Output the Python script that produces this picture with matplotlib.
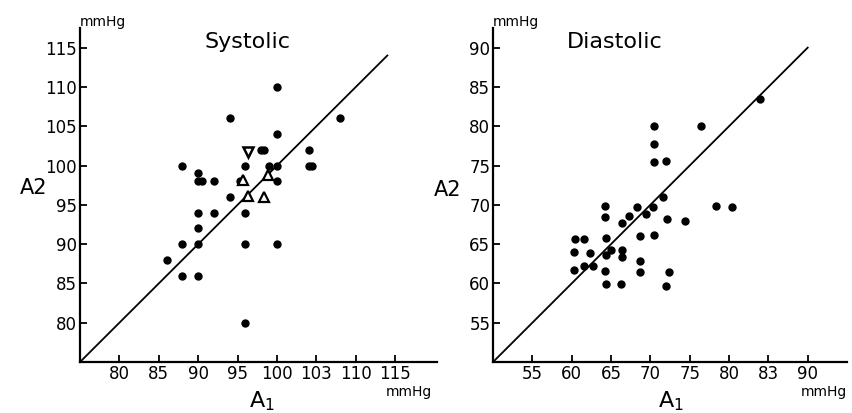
"""
Systolic / diastolic agreement plot: A1 vs A2 readings with line of identity.
"""

import matplotlib
matplotlib.use("Agg")
import matplotlib.pyplot as plt

# systolic, filled dots (A1, A2) in mmHg
sys_x = [100, 94, 108, 100, 98, 98.4, 104, 104, 104.5, 88, 96, 99, 100, 90, 90, 90.5,
         92, 95.3, 100, 94, 96, 90, 92, 90, 88, 90, 96, 100, 86, 88, 90, 96]
sys_y = [110, 106, 106, 104, 102, 102, 102, 100, 100, 100, 100, 100, 100, 99, 98, 98,
         98, 98, 98, 96, 94, 94, 94, 92, 90, 90, 90, 90, 88, 86, 86, 80]
# systolic, open triangles
sys_tri_x = [95.7, 98.3, 96.3, 98.8]
sys_tri_y = [98.2, 96.0, 96.1, 98.8]
# systolic, open down-triangle
sys_dtri_x = [96.3]
sys_dtri_y = [101.7]

# diastolic, filled dots
dia_x = [84, 70.4, 76.5, 70.4, 70.4, 72.0, 71.6, 64.2, 68.3, 70.3, 78.3, 80.4, 64.2,
         67.3, 69.5, 72.1, 66.4, 74.4, 60.4, 61.6, 64.4, 68.7, 70.4, 60.3, 62.3, 65.0,
         64.3, 66.4, 66.4, 60.3, 61.6, 62.7, 64.2, 68.7, 68.7, 72.4, 64.3, 66.3, 72.0]
dia_y = [83.5, 80, 80, 77.75, 75.5, 75.6, 71.0, 69.8, 69.75, 69.7, 69.9, 69.75, 68.5,
         68.6, 68.8, 68.25, 67.7, 67.9, 65.6, 65.65, 65.8, 66.0, 66.1, 64.0, 63.9, 64.3,
         63.65, 64.3, 63.4, 61.75, 62.2, 62.2, 61.6, 62.9, 61.5, 61.5, 59.9, 59.9, 59.7]

sys_ticks = [80, 85, 90, 95, 100, 105, 110, 115]
sys_xlabels = ["80", "85", "90", "95", "100", "103", "110", "115"]
sys_ylabels = ["80", "85", "90", "95", "100", "105", "110", "115"]
dia_ticks = [55, 60, 65, 70, 75, 80, 85, 90]
dia_xlabels = ["55", "60", "65", "70", "75", "80", "83", "90"]
dia_ylabels = ["55", "60", "65", "70", "75", "80", "85", "90"]

plt.rcParams["font.family"] = ["DejaVu Sans"]

fig = plt.figure(figsize=(8.53, 4.13), dpi=100)
ax1 = fig.add_axes([0.0938, 0.1235, 0.4185, 0.8087])
ax2 = fig.add_axes([0.578, 0.1235, 0.415, 0.8087])


def style(ax, lo, hi_x, hi_y, ticks, xlabels, ylabels):
    ax.set_xlim(lo, hi_x)
    ax.set_ylim(lo, hi_y)
    for side in ["top", "right"]:
        ax.spines[side].set_visible(False)
    for side in ["left", "bottom"]:
        ax.spines[side].set_linewidth(1.6)
    ax.set_xticks(ticks)
    ax.set_xticklabels(xlabels)
    ax.set_yticks(ticks)
    ax.set_yticklabels(ylabels)
    ax.tick_params(direction="in", length=5, width=1.3, labelsize=12, pad=2)


style(ax1, 75, 120.3, 117.5, sys_ticks, sys_xlabels, sys_ylabels)
style(ax2, 50, 95, 92.5, dia_ticks, dia_xlabels, dia_ylabels)

ax1.plot([75, 114], [75, 114], color="black", lw=1.3)
ax1.plot(sys_x, sys_y, "o", color="black", ms=5, ls="none")
ax1.plot(sys_tri_x, sys_tri_y, "^", mfc="white", mec="black", mew=1.6, ms=6.5, ls="none")
ax1.plot(sys_dtri_x, sys_dtri_y, "v", mfc="white", mec="black", mew=1.8, ms=7, ls="none")

ax2.plot([50, 90], [50, 90], color="black", lw=1.3)
ax2.plot(dia_x, dia_y, "o", color="black", ms=5, ls="none")

# titles and unit labels
fig.text(248 / 853, 1 - 42 / 413, "Systolic", fontsize=16, ha="center", va="center")
fig.text(615 / 853, 1 - 42 / 413, "Diastolic", fontsize=16, ha="center", va="center")

for x0 in [80, 493]:
    fig.text(x0 / 853, 1 - 22 / 413, "mmHg", fontsize=10, ha="left", va="center")
for x1 in [432, 847]:
    fig.text(x1 / 853, 1 - 392 / 413, "mmHg", fontsize=10, ha="right", va="center")

fig.text(34 / 853, 1 - 188 / 413, "A2", fontsize=15, ha="center", va="center")
fig.text(448 / 853, 1 - 190 / 413, "A2", fontsize=15, ha="center", va="center")
fig.text(262 / 853, 1 - 407 / 413, r"A$_\mathregular{1}$", fontsize=16, ha="center", va="baseline")
fig.text(671 / 853, 1 - 407 / 413, r"A$_\mathregular{1}$", fontsize=16, ha="center", va="baseline")

fig.savefig("out.png", dpi=100)
